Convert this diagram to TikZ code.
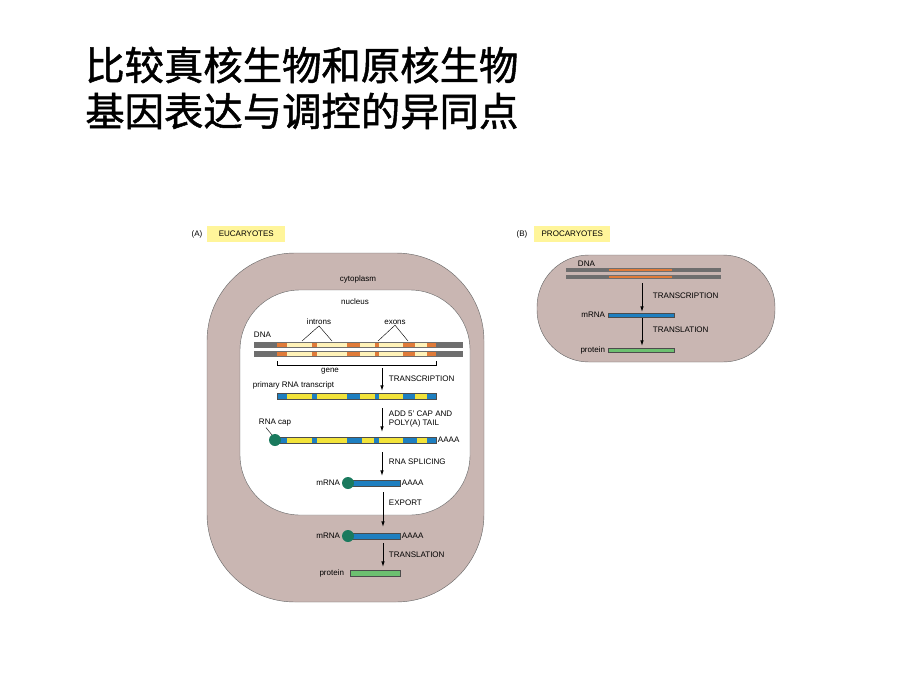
\documentclass[tikz,border=0pt]{standalone}
\usepackage{fontspec}
\setmainfont{Liberation Sans}
\newfontfamily\cjk[FakeBold=1.3]{Noto Sans CJK SC}
\usetikzlibrary{positioning,arrows.meta}
\definecolor{cell}{HTML}{C9B6B2}
\definecolor{exon}{HTML}{E07B39}
\definecolor{intron}{HTML}{FFF2B8}
\definecolor{dnagray}{HTML}{6E6E6E}
\definecolor{rnablue}{HTML}{1E7FC0}
\definecolor{rnayel}{HTML}{F2E33A}
\definecolor{captea}{HTML}{1A7A5E}
\definecolor{prot}{HTML}{6CC070}
\definecolor{tag}{HTML}{FFF59A}
\tikzset{
  lbl/.style={font=\fontsize{5.7}{6.7}\selectfont, inner sep=0.5pt},
  tagbox/.style={lbl, fill=tag, minimum width=1.95cm, minimum height=0.4cm},
  flow/.style={-{Latex[length=4pt,width=2.5pt]}, line width=0.6pt},
  bar/.style={draw=black!70, line width=0.2pt},
}
\begin{document}
\begin{tikzpicture}[x=0.025cm,y=-0.025cm]
\useasboundingbox (0,0) rectangle (920,690);

% Titel
\node[anchor=west, font=\cjk\fontsize{28}{32}\selectfont, inner sep=0] (t1) at (85,65) {比较真核生物和原核生物};
\node[anchor=west, font=\cjk\fontsize{28}{32}\selectfont, inner sep=0] (t2) at (85,111) {基因表达与调控的异同点};

% (A) Eucaryotes
\node[lbl] (tagA) at (197,234) {(A)};
\node[tagbox, anchor=west] (euc) at (207,234) {EUCARYOTES};
\fill[cell, draw=black!60, line width=0.3pt, rounded corners=2.2cm] (207,253) rectangle (484,602);
\fill[white, draw=black!60, line width=0.3pt, rounded corners=1.5cm] (240,290) rectangle (470,515);
\node[lbl] (cyto) at (358,279) {cytoplasm};
\node[lbl] (nuc) at (355,302) {nucleus};

% DNA
\foreach \y in {342,351}{
  \fill[dnagray] (254,\y) rectangle (463,\y+6);
  \foreach \a/\b/\c in {277/287/exon,287/312/intron,312/317/exon,317/347/intron,347/360/exon,360/375/intron,375/379/exon,379/403/intron,403/415/exon,415/427/intron,427/436/exon}
    \fill[\c] (\a,\y+1) rectangle (\b,\y+5);
}
\node[lbl, anchor=west] (dnaA) at (253,335) {DNA};
\node[lbl] (intr) at (319,322) {introns};
\node[lbl] (exo) at (395,322) {exons};
\draw[line width=0.3pt] (302,341) -- (intr.south) -- (332,341);
\draw[line width=0.3pt] (378,341) -- (exo.south) -- (408,341);
\draw[line width=0.3pt] (277,361) -- (277,365) -- (436,365) -- (436,361);
\node[lbl] (gene) at (330,371) {gene};

% primary transcript
\coordinate (a1) at (382,368); \coordinate (a2) at (382,391);
\draw[flow] (a1) -- (a2);
\node[lbl, anchor=west] at (388,379) {TRANSCRIPTION};
\node[lbl, anchor=west] (prim) at (252,385) {primary RNA transcript};
\foreach \a/\b/\c in {277/287/rnablue,287/312/rnayel,312/317/rnablue,317/347/rnayel,347/360/rnablue,360/375/rnayel,375/379/rnablue,379/403/rnayel,403/415/rnablue,415/427/rnayel,427/436/rnablue}
  \fill[\c] (\a,393) rectangle (\b,399);
\draw[bar] (277,393) rectangle (436,399);

% capped transcript
\coordinate (b1) at (382,408); \coordinate (b2) at (382,432);
\draw[flow] (b1) -- (b2);
\node[lbl, anchor=west, align=left] at (388,419) {ADD 5' CAP AND\\POLY(A) TAIL};
\foreach \a/\b/\c in {277/287/rnablue,287/312/rnayel,312/317/rnablue,317/347/rnayel,347/362/rnablue,362/374/rnayel,374/379/rnablue,379/403/rnayel,403/417/rnablue,417/427/rnayel,427/436/rnablue}
  \fill[\c] (\a,437) rectangle (\b,443);
\draw[bar] (277,437) rectangle (436,443);
\fill[captea] (275,440) circle (6);
\node[lbl, anchor=west] (capl) at (258,423) {RNA cap};
\draw[line width=0.3pt] (capl.south west) ++(8,0) -- (272,435);
\node[lbl, anchor=west] at (437,440) {AAAA};

% mRNA nucleus
\coordinate (c1) at (382,452); \coordinate (c2) at (382,476);
\draw[flow] (c1) -- (c2);
\node[lbl, anchor=west] at (388,462) {RNA SPLICING};
\fill[rnablue, draw=black!70, line width=0.2pt] (350,480) rectangle (400,486);
\fill[captea] (348,483) circle (6);
\node[lbl, anchor=east] (m1) at (341,483) {mRNA};
\node[lbl, anchor=west] at (401,483) {AAAA};

% mRNA cytoplasm
\coordinate (d1) at (383,492); \coordinate (d2) at (383,527);
\draw[flow] (d1) -- (d2);
\node[lbl, anchor=west] at (388,503) {EXPORT};
\fill[rnablue, draw=black!70, line width=0.2pt] (350,533) rectangle (400,539);
\fill[captea] (348,536) circle (6);
\node[lbl, anchor=east] (m2) at (341,536) {mRNA};
\node[lbl, anchor=west] at (401,536) {AAAA};

% protein
\coordinate (e1) at (383,543); \coordinate (e2) at (383,567);
\draw[flow] (e1) -- (e2);
\node[lbl, anchor=west] at (388,555) {TRANSLATION};
\fill[prot, draw=black!70, line width=0.2pt] (350,570) rectangle (400,576);
\node[lbl, anchor=east] (pA) at (345,573) {protein};

% (B) Procaryotes
\node[lbl] (tagB) at (522,234) {(B)};
\node[tagbox, anchor=west, minimum width=1.9cm] (pro) at (534,234) {PROCARYOTES};
\fill[cell, draw=black!60, line width=0.3pt, rounded corners=1.3cm] (537,255) rectangle (775,362);
\foreach \y in {268,275}{
  \fill[dnagray] (566,\y) rectangle (721,\y+4);
  \fill[exon] (609,\y+0.7) rectangle (672,\y+3.3);
}
\node[lbl, anchor=west] (dnaB) at (577,264) {DNA};
\coordinate (f1) at (642,283); \coordinate (f2) at (642,312);
\draw[flow] (f1) -- (f2);
\node[lbl, anchor=west] at (652,296) {TRANSCRIPTION};
\fill[rnablue, draw=black!70, line width=0.2pt] (608,313) rectangle (674,317);
\node[lbl, anchor=east] (mB) at (606,315) {mRNA};
\coordinate (g1) at (642,318); \coordinate (g2) at (642,346);
\draw[flow] (g1) -- (g2);
\node[lbl, anchor=west] at (652,330) {TRANSLATION};
\fill[prot, draw=black!70, line width=0.2pt] (608,348) rectangle (674,352);
\node[lbl, anchor=east] (pB) at (606,350) {protein};
\end{tikzpicture}
\end{document}
